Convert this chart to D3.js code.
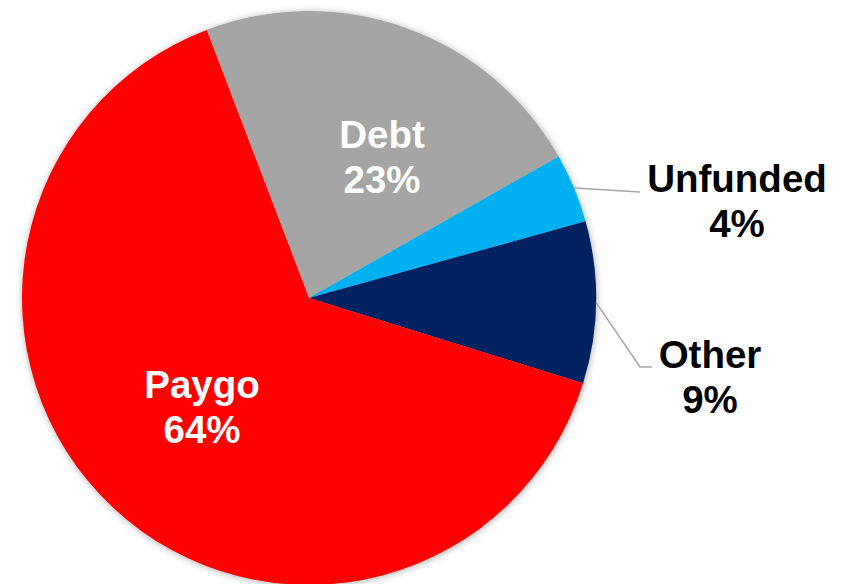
<!DOCTYPE html>
<html>
<head>
<meta charset="utf-8">
<script src="https://cdn.jsdelivr.net/npm/d3@7"></script>
<style>
  html, body { margin: 0; padding: 0; background: #fff; }
  svg { display: block; }
  .lbl { font-family: "Liberation Sans", Arial, sans-serif; font-weight: bold; font-size: 38.5px; }
</style>
</head>
<body>
<div id="chart"></div>
<script>
const categories = ['Debt', 'Unfunded', 'Other', 'Paygo'];
const shares = [22.6, 3.9, 9.1, 64.4];
const colors = ['#A5A5A5', '#00B0F0', '#002060', '#FF0000'];

const width = 846, height = 584;
const cx = 309, cy = 298, radius = 287;

// label placement: offset from pie centre, text colour, leader line points
const labelLayout = {
  Debt:     { x: 73,  y: -128, fill: '#fff' },
  Unfunded: { x: 428, y: -84,  fill: '#000', leader: [[331, -106]] },
  Other:    { x: 401, y: 92,   fill: '#000', leader: [[331, 69], [343, 69]] },
  Paygo:    { x: -107, y: 122, fill: '#fff' }
};

const svg = d3.select('#chart').append('svg')
  .attr('width', width)
  .attr('height', height);

const defs = svg.append('defs');
const shadow = defs.append('filter')
  .attr('id', 'shadow')
  .attr('x', '-10%').attr('y', '-10%')
  .attr('width', '120%').attr('height', '120%');
shadow.append('feDropShadow')
  .attr('dx', 0.5).attr('dy', 1)
  .attr('stdDeviation', 3.5)
  .attr('flood-color', '#000')
  .attr('flood-opacity', 0.32);

const g = svg.append('g')
  .attr('transform', 'translate(' + cx + ',' + cy + ')');

const data = categories.map((c, i) => ({ name: c, value: shares[i], color: colors[i] }));

// Debt starts about 21 degrees left of 12 o'clock
const startAngle = -20.9 * Math.PI / 180;
const pie = d3.pie()
  .value(d => d.value)
  .sort(null)
  .startAngle(startAngle)
  .endAngle(startAngle + 2 * Math.PI);

const arc = d3.arc().innerRadius(0).outerRadius(radius);
const arcs = pie(data);

g.append('g')
  .attr('filter', 'url(#shadow)')
  .selectAll('path')
  .data(arcs)
  .enter()
  .append('path')
    .attr('d', arc)
    .attr('fill', d => d.data.color);

// leader lines for the small slices
arcs.forEach(d => {
  const lay = labelLayout[d.data.name];
  if (!lay.leader) return;
  const mid = (d.startAngle + d.endAngle) / 2;
  const pts = [[radius * Math.sin(mid), -radius * Math.cos(mid)]].concat(lay.leader);
  g.append('path')
    .attr('d', d3.line()(pts))
    .attr('fill', 'none')
    .attr('stroke', '#A6A6A6')
    .attr('stroke-width', 1.5);
});

const labels = g.selectAll('text.lbl')
  .data(arcs)
  .enter()
  .append('text')
    .attr('class', 'lbl')
    .attr('text-anchor', 'middle')
    .attr('fill', d => labelLayout[d.data.name].fill)
    .attr('transform', d => {
      const lay = labelLayout[d.data.name];
      return 'translate(' + lay.x + ',' + lay.y + ')';
    });

labels.append('tspan')
  .attr('x', 0)
  .attr('dy', '-0.58em')
  .text(d => d.data.name);

labels.append('tspan')
  .attr('x', 0)
  .attr('dy', '1.17em')
  .text(d => d3.format('.0f')(d.data.value) + '%');
</script>
</body>
</html>
